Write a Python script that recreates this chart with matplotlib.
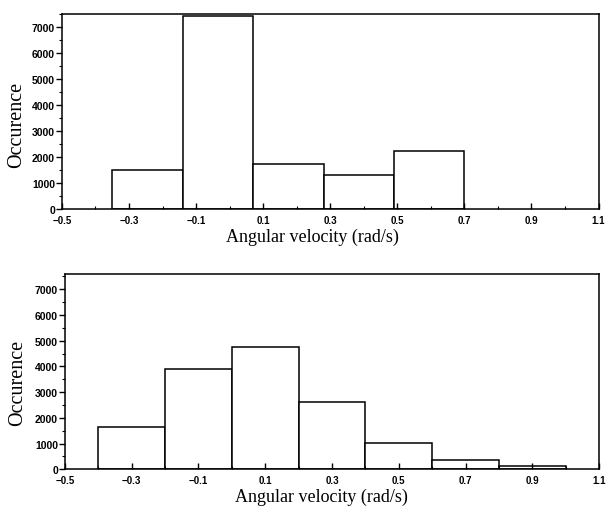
import numpy as np
import matplotlib
matplotlib.use("Agg")
import matplotlib.pyplot as plt
from matplotlib.ticker import MultipleLocator

# ==============================
# Data
# ==============================
top_edges   = [-0.35, -0.14, 0.07, 0.28, 0.49, 0.70]
top_counts  = [1500, 7400, 1750, 1300, 2230]

bot_edges   = [-0.4, -0.2, 0.0, 0.2, 0.4, 0.6, 0.8, 1.0]
bot_counts  = [1650, 3900, 4750, 2620, 1020, 340, 130]

x_ticks     = [-0.5, -0.3, -0.1, 0.1, 0.3, 0.5, 0.7, 0.9, 1.1]
x_ticklbls  = ["\u22120.5", "\u22120.3", "\u22120.1", "0.1", "0.3", "0.5", "0.7", "0.9", "1.1"]
y_ticks     = [0, 1000, 2000, 3000, 4000, 5000, 6000, 7000]

XLABEL = "Angular velocity (rad/s)"
YLABEL = "Occurence"

SERIF = "Liberation Serif"
SANS  = "Liberation Sans"


def draw_hist(ax, edges, counts, ymax, xlab_pos, ylab_pos):
    edges = np.asarray(edges, dtype=float)
    widths = np.diff(edges)
    ax.bar(edges[:-1], counts, width=widths, align="edge",
           facecolor="white", edgecolor="black", linewidth=1.1)
    ax.set_xlim(-0.5, 1.1)
    ax.set_ylim(0, ymax)
    ax.set_xticks(x_ticks)
    ax.set_xticklabels(x_ticklbls, fontfamily=SANS, fontweight="bold", fontsize=7)
    ax.xaxis.set_minor_locator(MultipleLocator(0.1))
    ax.set_yticks(y_ticks)
    ax.set_yticklabels([str(v) for v in y_ticks], fontfamily=SANS,
                       fontweight="bold", fontsize=7.5)
    ax.yaxis.set_minor_locator(MultipleLocator(500))
    ax.tick_params(axis="x", which="major", direction="in", length=4, width=1, pad=4)
    ax.tick_params(axis="x", which="minor", direction="in", length=2, width=0.8)
    ax.tick_params(axis="y", which="major", direction="out", length=4, width=1, pad=1)
    ax.tick_params(axis="y", which="minor", direction="out", length=2, width=0.8)
    ax.tick_params(top=False, right=False)
    for sp in ax.spines.values():
        sp.set_linewidth(1.1)
    ax.set_xlabel(XLABEL, fontfamily=SERIF, fontsize=13)
    ax.xaxis.set_label_coords(*xlab_pos)
    ax.xaxis.label.set_va("center")
    ax.set_ylabel(YLABEL, fontfamily=SERIF, fontsize=14.5)
    ax.yaxis.set_label_coords(*ylab_pos)
    ax.yaxis.label.set_va("center")


fig = plt.figure(figsize=(6.07, 5.10), dpi=100)
ax1 = fig.add_axes([0.102, 0.588, 0.884, 0.383])
ax2 = fig.add_axes([0.107, 0.078, 0.880, 0.383])

draw_hist(ax1, top_edges, top_counts, 7500, (0.467, -0.138), (-0.084, 0.436))
draw_hist(ax2, bot_edges, bot_counts, 7600, (0.480, -0.138), (-0.088, 0.446))

fig.savefig("out.png", dpi=100)
